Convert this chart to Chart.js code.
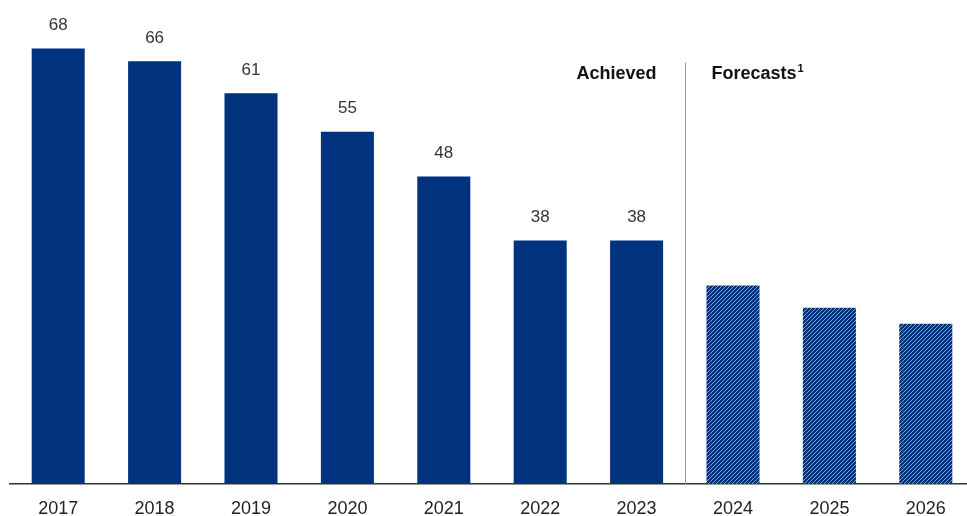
<!DOCTYPE html>
<html>
<head>
<meta charset="utf-8">
<script src="https://cdn.jsdelivr.net/npm/chart.js@4.4.1/dist/chart.umd.min.js"></script>
<style>
  html, body { margin: 0; padding: 0; background: #fff; overflow: hidden; }
  #wrap { width: 967px; height: 516px; overflow: hidden; }
</style>
</head>
<body>
<div id="wrap"><canvas id="chart" width="980" height="516"></canvas></div>
<script>
// Years and values
const years = ['2017', '2018', '2019', '2020', '2021', '2022', '2023', '2024', '2025', '2026'];
const values = [68, 66, 61, 55, 48, 38, 38, 31, 27.5, 25];
// true = forecast bar (hatched, no label)
const isForecast = [false, false, false, false, false, false, false, true, true, true];
const sectionLabels = ['Achieved', 'Forecasts'];

const navy = '#00327d';
const fontFamily = '"Liberation Sans", Arial, sans-serif';

// Diagonal hatch for forecast bars
function makeHatch() {
    const c = document.createElement('canvas');
    c.width = 4;
    c.height = 4;
    const g = c.getContext('2d');
    g.fillStyle = navy;
    g.fillRect(0, 0, 4, 4);
    g.strokeStyle = 'rgba(220,230,255,0.6)';
    g.lineWidth = 1;
    g.beginPath();
    g.moveTo(-1, 5); g.lineTo(5, -1);
    g.moveTo(-1, 1); g.lineTo(1, -1);
    g.moveTo(3, 5); g.lineTo(5, 3);
    g.stroke();
    return g.createPattern(c, 'repeat');
}

const hatch = makeHatch();

// Value labels above achieved bars, plus the Achieved / Forecasts divider
const annotations = {
    id: 'annotations',
    afterDatasetsDraw(chart) {
        const ctx = chart.ctx;
        const meta = chart.getDatasetMeta(0);
        const xs = chart.scales.x;
        const ys = chart.scales.y;

        ctx.save();
        ctx.font = '17px ' + fontFamily;
        ctx.fillStyle = '#333';
        ctx.textAlign = 'center';
        ctx.textBaseline = 'middle';
        meta.data.forEach((bar, i) => {
            if (isForecast[i]) return;
            ctx.fillText(String(values[i]), bar.x, bar.y - 23);
        });

        // divider between last achieved and first forecast
        const firstF = isForecast.indexOf(true);
        const divX = Math.round((xs.getPixelForTick(firstF - 1) + xs.getPixelForTick(firstF)) / 2) + 0.5;
        ctx.strokeStyle = '#9a9a9a';
        ctx.lineWidth = 1;
        ctx.beginPath();
        ctx.moveTo(divX, ys.getPixelForValue(65.8));
        ctx.lineTo(divX, ys.bottom);
        ctx.stroke();

        const headY = ys.getPixelForValue(63.3);
        ctx.textBaseline = 'alphabetic';
        ctx.font = 'bold 18px ' + fontFamily;
        ctx.fillStyle = '#111';
        ctx.textAlign = 'right';
        ctx.fillText(sectionLabels[0], divX - 29, headY);
        ctx.textAlign = 'left';
        ctx.fillText(sectionLabels[1], divX + 26, headY);
        const w = ctx.measureText(sectionLabels[1]).width;
        ctx.font = 'bold 11px ' + fontFamily;
        ctx.fillText('1', divX + 26 + w + 1, headY - 7);
        ctx.restore();
    }
};

new Chart(document.getElementById('chart'), {
    type: 'bar',
    data: {
        labels: years,
        datasets: [{
            data: values,
            backgroundColor: values.map((v, i) => isForecast[i] ? hatch : navy),
            borderWidth: 0,
            categoryPercentage: 1,
            barPercentage: 0.55
        }]
    },
    options: {
        responsive: false,
        animation: false,
        layout: { padding: { left: 10, right: 6, top: 10, bottom: 0 } },
        plugins: {
            legend: { display: false },
            tooltip: { enabled: false }
        },
        scales: {
            x: {
                grid: { display: false, drawTicks: false },
                border: { display: true, color: '#333', width: 1.5 },
                ticks: {
                    color: '#222',
                    padding: 14,
                    font: { size: 18, family: fontFamily }
                },
                afterFit(axis) { axis.height = 32; }
            },
            y: {
                display: false,
                min: 0,
                max: 74
            }
        }
    },
    plugins: [annotations]
});
</script>
</body>
</html>
